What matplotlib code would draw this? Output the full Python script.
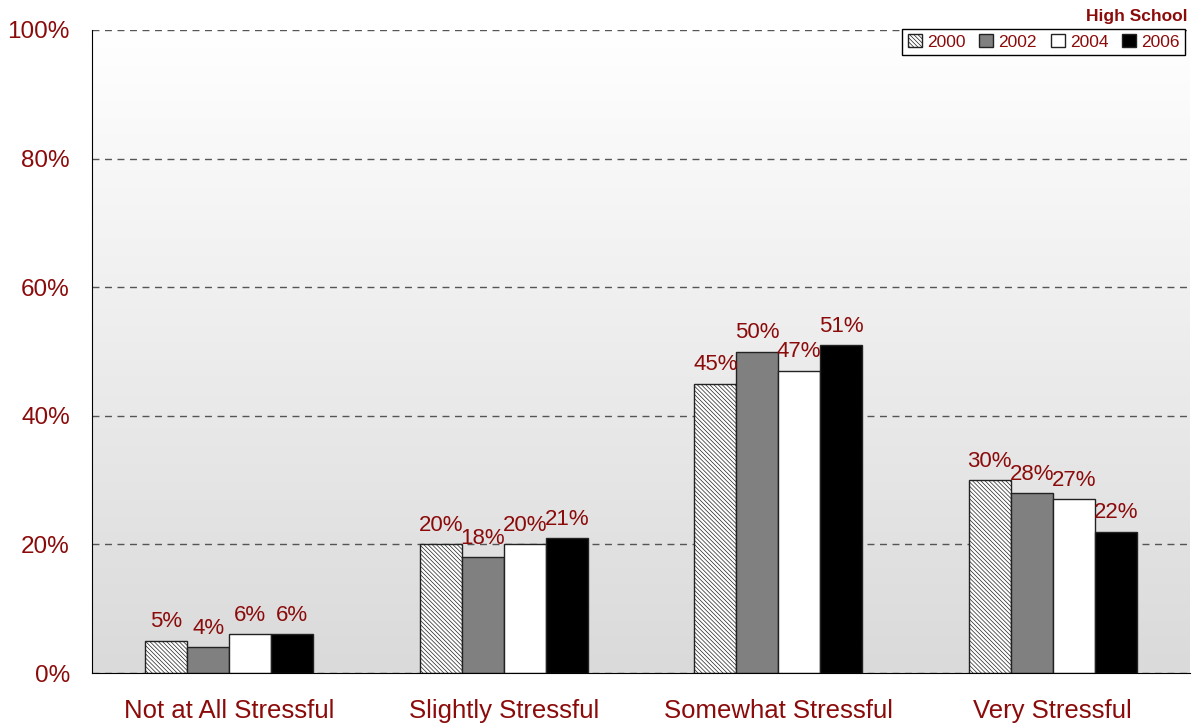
import numpy as np
import matplotlib.pyplot as plt

plt.rcParams['font.family'] = ['Liberation Sans', 'DejaVu Sans']

categories = ['Not at All Stressful', 'Slightly Stressful', 'Somewhat Stressful', 'Very Stressful']
years = ['2000', '2002', '2004', '2006']
values = {
    '2000': [5, 20, 45, 30],
    '2002': [4, 18, 50, 28],
    '2004': [6, 20, 47, 27],
    '2006': [6, 21, 51, 22],
}

red = '#8b0b0b'
fills = {'2000': 'white', '2002': '#808080', '2004': 'white', '2006': 'black'}
hatches = {'2000': '\\' * 8, '2002': None, '2004': None, '2006': None}

fig = plt.figure(figsize=(11.93, 7.25), dpi=100)
ax = fig.add_axes([92 / 1193, 52 / 725, 1098 / 1193, 643 / 725])

# background gradient, white at top to light grey at bottom
grad = np.linspace(1, 0, 256).reshape(-1, 1)
ax.imshow(grad, extent=[0, 1, 0, 1], transform=ax.transAxes, aspect='auto',
          cmap=plt.matplotlib.colors.LinearSegmentedColormap.from_list('bg', ['#dadada', '#ffffff']),
          zorder=0)

x = np.arange(len(categories))
w = 0.153
plt.rcParams['hatch.linewidth'] = 0.5
for i, yr in enumerate(years):
    pos = x + (i - 1.5) * w
    ax.bar(pos, values[yr], width=w, color=fills[yr], edgecolor='#222222',
           linewidth=1.0, hatch=hatches[yr], label=yr, zorder=3)
    for xp, v in zip(pos, values[yr]):
        ax.text(xp, v + 1.3, f'{v}%', ha='center', va='bottom', color=red, fontsize=16, zorder=4)

ax.set_xlim(-0.5, 3.5)
ax.set_ylim(0, 100)
ax.set_yticks(range(0, 101, 20))
ax.set_yticklabels([f'{t}%' for t in range(0, 101, 20)], color=red, fontsize=17.5)
ax.set_xticks(x)
ax.set_xticklabels(categories, color=red, fontsize=18.5)
ax.tick_params(axis='y', length=0, pad=16)
ax.tick_params(axis='x', length=0, pad=19)
ax.yaxis.grid(True, linestyle=(0, (5, 4)), color='#555555', linewidth=1, zorder=1)
ax.set_axisbelow(True)
for s in ['top', 'right']:
    ax.spines[s].set_visible(False)
ax.spines['left'].set_color('black')
ax.spines['bottom'].set_color('black')
ax.spines['left'].set_zorder(5)
ax.spines['bottom'].set_zorder(5)

leg = ax.legend(ncol=4, loc='upper right', bbox_to_anchor=(0.9954, 1.002), borderaxespad=0,
                fontsize=12.5, frameon=True, fancybox=False, edgecolor='black', framealpha=1,
                handlelength=0.8, handleheight=0.8, handletextpad=0.3, columnspacing=0.8,
                borderpad=0.3, labelcolor=red)
leg.get_frame().set_linewidth(1.0)
leg.set_zorder(6)

fig.text(1187 / 1193, 1 - 16 / 725, 'High School', ha='right', va='center', color=red,
         fontsize=12.5, fontweight='bold')

fig.savefig('out.png', dpi=100)
